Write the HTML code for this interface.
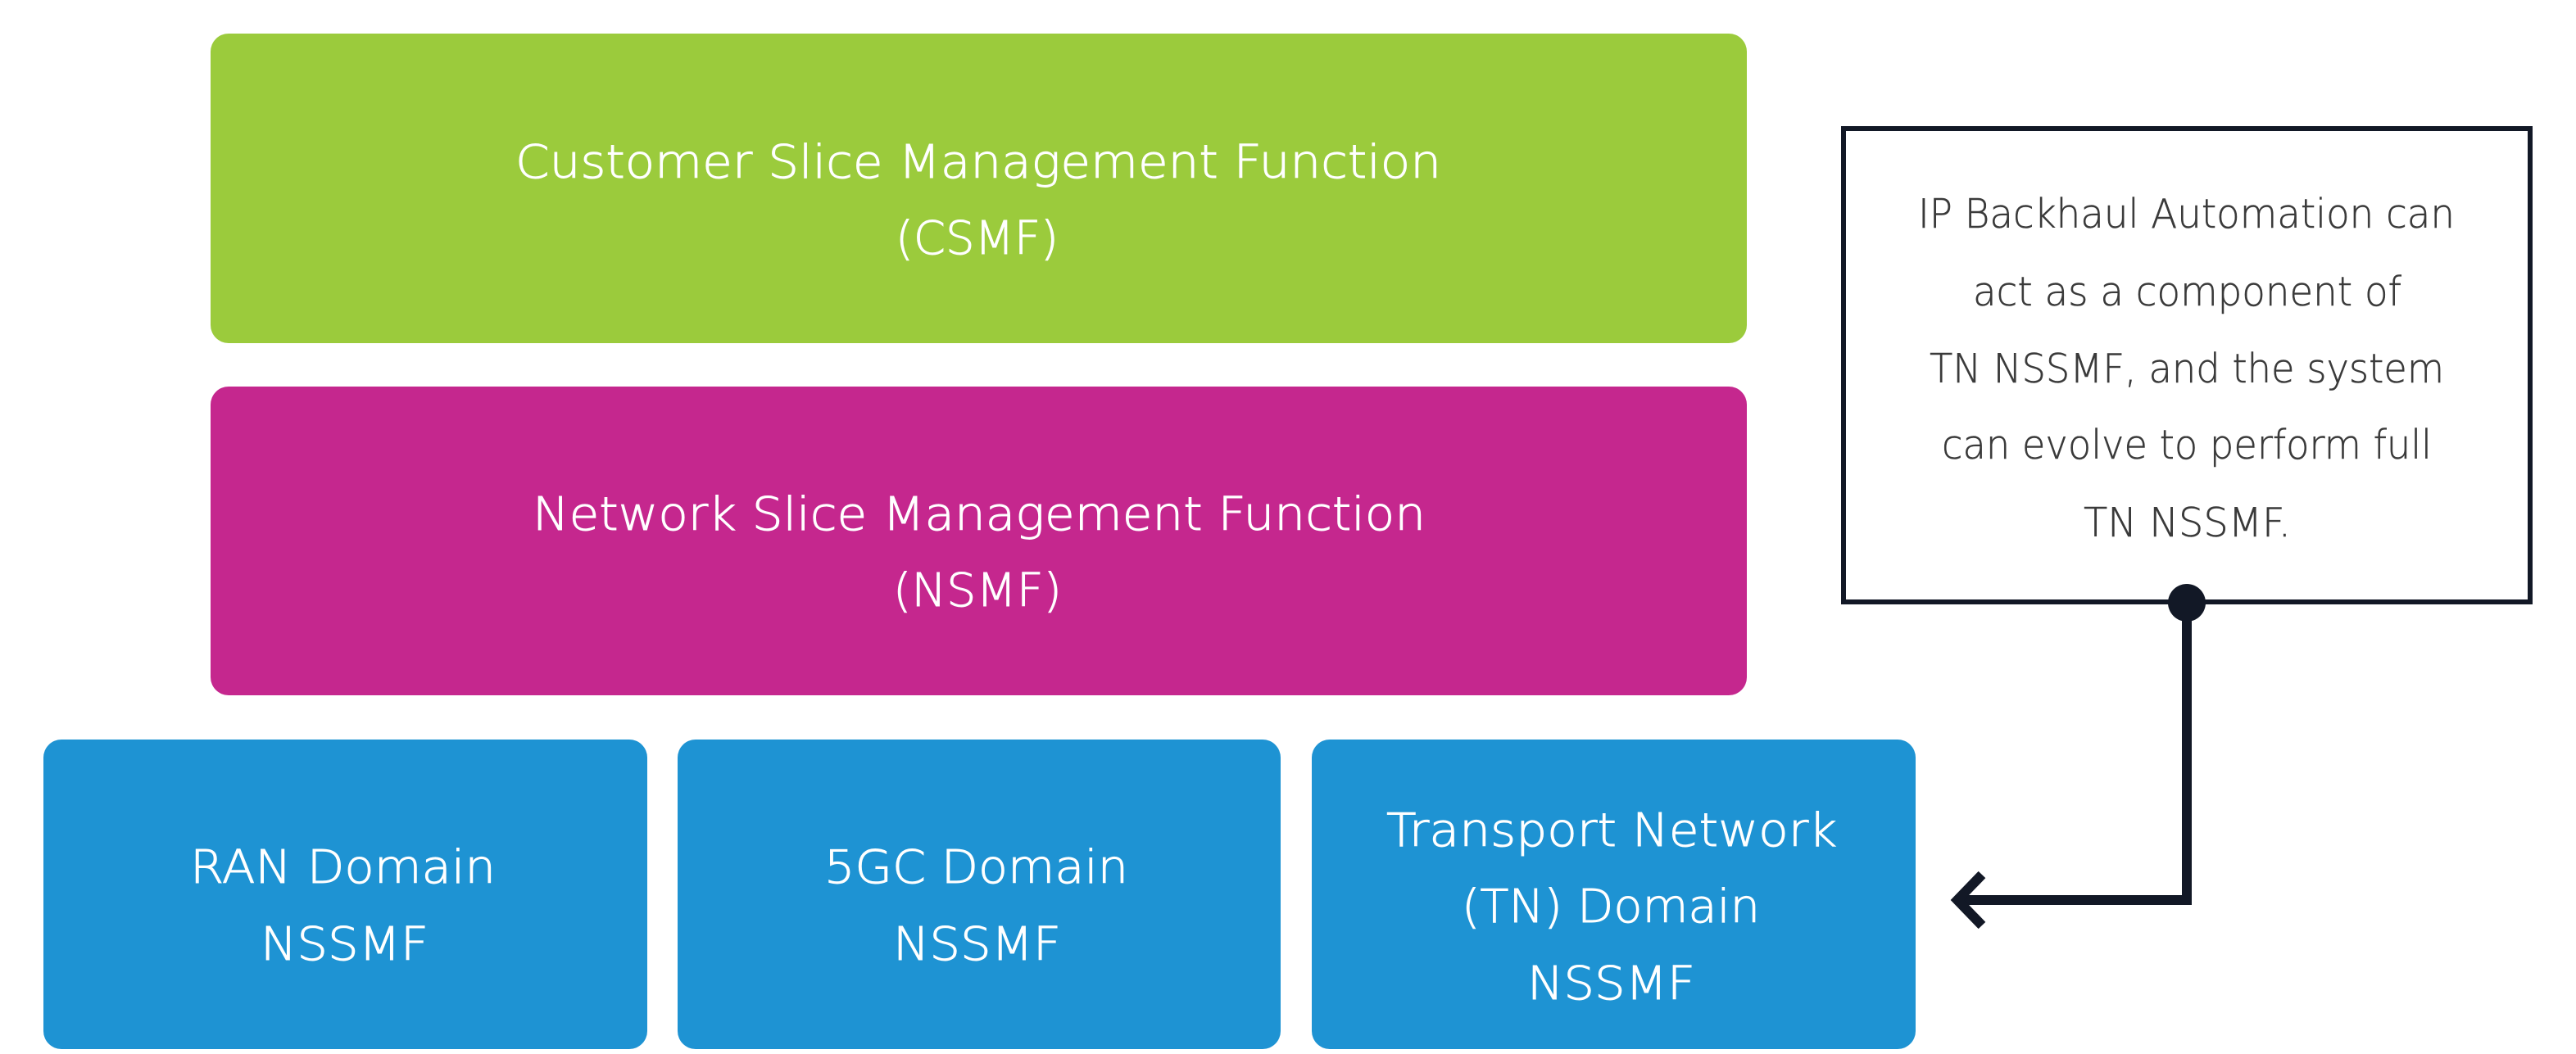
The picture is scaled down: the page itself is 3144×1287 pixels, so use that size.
<!DOCTYPE html>
<html>
<head>
<meta charset="utf-8">
<style>
  html, body { margin: 0; padding: 0; background: #ffffff; }
  body { width: 3144px; height: 1287px; overflow: hidden; }
  svg { display: block; }
  .lbl { font-family: "DejaVu Sans", "Liberation Sans", sans-serif; font-weight: 200; font-size: 56px; fill: #ffffff; stroke: #ffffff; stroke-width: 0.9px; }
  .note { font-family: "DejaVu Sans", "Liberation Sans", sans-serif; font-weight: 200; font-size: 49px; fill: #3a3a3a; stroke: #3a3a3a; stroke-width: 0.5px; }
</style>
</head>
<body>
<svg width="3144" height="1287" viewBox="0 0 3144 1287" xmlns="http://www.w3.org/2000/svg">
  <rect x="0" y="0" width="3144" height="1287" fill="#ffffff"/>

  <!-- CSMF -->
  <rect x="257" y="41" width="1875" height="378" rx="22" ry="22" fill="#9BCB3C"/>
  <text class="lbl" x="629" y="217" textLength="1130" lengthAdjust="spacingAndGlyphs">Customer Slice Management Function</text>
  <text class="lbl" x="1093" y="310" textLength="199" lengthAdjust="spacingAndGlyphs">(CSMF)</text>

  <!-- NSMF -->
  <rect x="257" y="472" width="1875" height="377" rx="22" ry="22" fill="#C5278E"/>
  <text class="lbl" x="650" y="647" textLength="1090" lengthAdjust="spacingAndGlyphs">Network Slice Management Function</text>
  <text class="lbl" x="1090" y="740" textLength="206" lengthAdjust="spacingAndGlyphs">(NSMF)</text>

  <!-- RAN -->
  <rect x="53" y="903" width="737" height="378" rx="22" ry="22" fill="#1E93D3"/>
  <text class="lbl" x="232" y="1078" textLength="373" lengthAdjust="spacingAndGlyphs">RAN Domain</text>
  <text class="lbl" x="318" y="1172" textLength="205" lengthAdjust="spacingAndGlyphs">NSSMF</text>

  <!-- 5GC -->
  <rect x="827" y="903" width="736" height="378" rx="22" ry="22" fill="#1E93D3"/>
  <text class="lbl" x="1006" y="1078" textLength="371" lengthAdjust="spacingAndGlyphs">5GC Domain</text>
  <text class="lbl" x="1090" y="1172" textLength="205" lengthAdjust="spacingAndGlyphs">NSSMF</text>

  <!-- TN -->
  <rect x="1601" y="903" width="737" height="378" rx="22" ry="22" fill="#1E93D3"/>
  <text class="lbl" x="1692" y="1033" textLength="550" lengthAdjust="spacingAndGlyphs">Transport Network</text>
  <text class="lbl" x="1784" y="1126" textLength="364" lengthAdjust="spacingAndGlyphs">(TN) Domain</text>
  <text class="lbl" x="1864" y="1220" textLength="205" lengthAdjust="spacingAndGlyphs">NSSMF</text>

  <!-- Note box -->
  <rect x="2250" y="157" width="838" height="578" fill="#ffffff" stroke="#121826" stroke-width="6"/>
  <text class="note" x="2341" y="278" textLength="655" lengthAdjust="spacingAndGlyphs">IP Backhaul Automation can</text>
  <text class="note" x="2408" y="373" textLength="523" lengthAdjust="spacingAndGlyphs">act as a component of</text>
  <text class="note" x="2355" y="467" textLength="628" lengthAdjust="spacingAndGlyphs">TN NSSMF, and the system</text>
  <text class="note" x="2370" y="560" textLength="598" lengthAdjust="spacingAndGlyphs">can evolve to perform full</text>
  <text class="note" x="2543" y="655" textLength="253" lengthAdjust="spacingAndGlyphs">TN NSSMF.</text>

  <!-- Connector -->
  <path d="M2669 737 V1099 H2392" fill="none" stroke="#121826" stroke-width="12" stroke-linejoin="miter"/>
  <polyline points="2419,1068 2389,1099 2419,1130" fill="none" stroke="#121826" stroke-width="12" stroke-linejoin="miter" stroke-linecap="butt"/>
  <circle cx="2669" cy="736" r="23" fill="#121826"/>
</svg>
</body>
</html>
